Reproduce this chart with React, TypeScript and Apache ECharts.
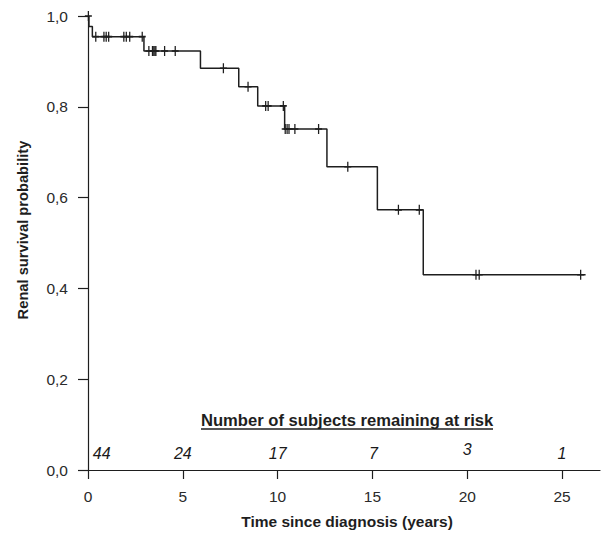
import React, { useEffect, useRef } from "react";
import * as echarts from "echarts";

// Kaplan-Meier step points: [time (years), survival]
const stepTimes = [0, 0.05, 0.23, 2.95, 5.93, 7.95, 8.95, 10.37, 12.6, 15.26, 17.68, 26.24];
const stepSurv = [1.0, 0.977, 0.9545, 0.923, 0.885, 0.844, 0.802, 0.751, 0.668, 0.573, 0.43, 0.43];

// Censored observations
const censorTimes = [
  0.02,
  0.41, 0.84, 0.96, 1.09, 1.89, 2.02, 2.2, 2.86,
  3.21, 3.4, 3.47, 3.53, 3.58, 4.04, 4.6,
  7.14,
  8.44,
  9.37, 9.5, 10.3,
  10.4, 10.5, 10.6, 10.91, 12.16,
  13.7,
  16.37, 17.47,
  20.46, 20.63, 25.98,
];
const censorSurv = [
  1.0,
  0.9545, 0.9545, 0.9545, 0.9545, 0.9545, 0.9545, 0.9545, 0.9545,
  0.923, 0.923, 0.923, 0.923, 0.923, 0.923, 0.923,
  0.885,
  0.844,
  0.802, 0.802, 0.802,
  0.751, 0.751, 0.751, 0.751, 0.751,
  0.668,
  0.573, 0.573,
  0.43, 0.43, 0.43,
];

// Number at risk
const atRiskTimes = [0.72, 5, 10, 15.05, 20, 25];
const atRiskCounts = [44, 24, 17, 7, 3, 1];
const atRiskY = [0.037, 0.037, 0.037, 0.037, 0.045, 0.037];

const xTicks = [0, 5, 10, 15, 20, 25];

const FONT = "'Liberation Sans', Arial, Helvetica, sans-serif";
const INK = "#1e1e1e";
const PLUS = "path://M0,4.2H10V5.8H0ZM4.1,0H5.9V10H4.1Z";

export default function App() {
  const ref = useRef<HTMLDivElement>(null);

  useEffect(() => {
    if (!ref.current) return;
    const chart = echarts.init(ref.current, undefined, { renderer: "svg" });
    const option = {
      animation: false,
      backgroundColor: "#ffffff",
      textStyle: { fontFamily: FONT },
      grid: { left: 88, right: 5, top: 16, bottom: 64, containLabel: false },
      xAxis: {
        type: "value",
        min: 0,
        max: 27,
        interval: 5,
        name: "Time since diagnosis (years)",
        nameLocation: "middle",
        nameGap: 43,
        nameTextStyle: { fontFamily: FONT, fontSize: 15.5, fontWeight: "bold", color: INK, padding: [0, 0, 0, 6] },
        axisLine: { onZero: false, lineStyle: { color: INK, width: 1.2 } },
        axisTick: { show: true, length: 9, customValues: xTicks, lineStyle: { color: INK, width: 1.2 } },
        axisLabel: {
          customValues: xTicks,
          margin: 18,
          fontFamily: FONT,
          fontSize: 15.5,
          color: "#2a2a2a",
        },
        splitLine: { show: false },
      },
      yAxis: {
        type: "value",
        min: 0,
        max: 1,
        interval: 0.2,
        axisLine: { onZero: false, lineStyle: { color: INK, width: 1.2 } },
        axisTick: { show: true, length: 10, lineStyle: { color: INK, width: 1.2 } },
        axisLabel: {
          margin: 20,
          fontFamily: FONT,
          fontSize: 15.5,
          color: "#2a2a2a",
          formatter: (v: number) => v.toFixed(1).replace(".", ","),
        },
        splitLine: { show: false },
      },
      graphic: [
        {
          type: "text",
          x: 23,
          y: 230,
          rotation: Math.PI / 2,
          style: {
            text: "Renal survival probability",
            fontFamily: FONT,
            fontSize: 14.7,
            fontWeight: "bold",
            fill: INK,
            align: "center",
            verticalAlign: "middle",
          },
        },
        {
          type: "text",
          left: 201,
          top: 412,
          style: {
            text: "Number of subjects remaining at risk",
            fontFamily: FONT,
            fontSize: 16.6,
            fontWeight: "bold",
            fill: INK,
          },
        },
        {
          type: "line",
          shape: { x1: 201, y1: 429, x2: 493, y2: 429 },
          style: { stroke: INK, lineWidth: 1.3 },
        },
      ],
      series: [
        {
          type: "line",
          step: "end",
          data: stepTimes.map((t, i) => [t, stepSurv[i]]),
          showSymbol: false,
          symbol: "none",
          lineStyle: { color: INK, width: 1.5 },
          silent: true,
        },
        {
          type: "scatter",
          data: censorTimes.map((t, i) => [t, censorSurv[i]]),
          symbol: PLUS,
          symbolSize: [7, 10],
          itemStyle: { color: INK, opacity: 1 },
          silent: true,
        },
        {
          type: "scatter",
          data: atRiskTimes.map((t, i) => [t, atRiskY[i], atRiskCounts[i]]),
          symbol: "circle",
          symbolSize: 1,
          itemStyle: { color: "#ffffff", opacity: 1 },
          label: {
            show: true,
            position: "inside",
            formatter: (p: any) => String(p.value[2]),
            fontFamily: FONT,
            fontSize: 16,
            fontStyle: "italic",
            color: "#1a1a1a",
            opacity: 1,
            textBorderWidth: 0,
          },
          silent: true,
        },
      ],
    };
    chart.setOption(option as any);
    return () => chart.dispose();
  }, []);

  return (
    <div
      ref={ref}
      style={{ position: "fixed", left: 0, top: 0, width: 605, height: 534, background: "#fff" }}
    />
  );
}
